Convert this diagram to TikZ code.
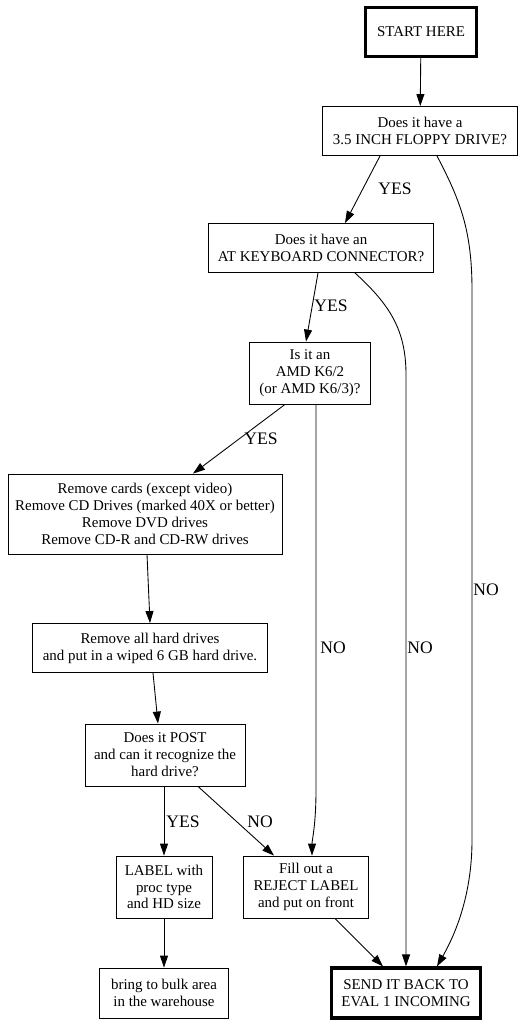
\documentclass[tikz,border=0pt]{standalone}
\usepackage{fontspec}
\setmainfont{Liberation Serif}
\usetikzlibrary{arrows.meta, positioning}
\tikzset{
  cx/.style = {draw=black, fill=white, align=center, inner sep=0pt,
    line width=0.5pt, font=\fontsize{8.5}{9.6}\selectfont},
  cxg/.style = {cx, line width=1.8pt},
  seta/.style = {-{Triangle[length=2.4mm, width=1.6mm]}, line width=0.5pt},
  rot/.style = {font=\fontsize{10}{12}\selectfont, inner sep=0pt}
}
\begin{document}
\begin{tikzpicture}[x=0.02cm, y=-0.02cm]
  \useasboundingbox (0,0) rectangle (526,1026);
  % caixas
  \node [cxg, minimum width=2.22cm, minimum height=0.98cm] (start) at (421,32) {START HERE};
  \node [cx, minimum width=3.9cm, minimum height=0.98cm] (floppy) at (420,131) {Does it have a\\3.5 INCH FLOPPY DRIVE?};
  \node [cx, minimum width=4.5cm, minimum height=0.98cm] (keyb) at (321,248) {Does it have an\\AT KEYBOARD CONNECTOR?};
  \node [cx, minimum width=2.42cm, minimum height=1.24cm] (amd) at (310,373) {Is it an\\AMD K6/2\\(or AMD K6/3)?};
  \node [cx, minimum width=5.48cm, minimum height=1.6cm] (strip) at (145,514) {Remove cards (except video)\\Remove CD Drives (marked 40X or better)\\Remove DVD drives\\Remove CD-R and CD-RW drives};
  \node [cx, minimum width=4.7cm, minimum height=0.98cm] (hdd) at (150,648) {Remove all hard drives\\and put in a wiped 6 GB hard drive.};
  \node [cx, minimum width=3.2cm, minimum height=1.24cm] (post) at (165,755) {Does it POST\\and can it recognize the\\hard drive?};
  \node [cx, minimum width=1.92cm, minimum height=1.24cm] (lbl) at (164,887) {LABEL with\\proc type\\and HD size};
  \node [cx, minimum width=2.5cm, minimum height=1.24cm] (reject) at (306,887) {Fill out a\\REJECT LABEL\\and put on front};
  \node [cx, minimum width=2.58cm, minimum height=1cm] (bulk) at (164,993) {bring to bulk area\\in the warehouse};
  \node [cxg, minimum width=2.98cm, minimum height=1cm] (sendback) at (406,993) {SEND IT BACK TO\\EVAL 1 INCOMING};

  % setas
  \draw [seta] (start) -- (floppy);
  \draw [seta] ([xshift=-0.8cm]floppy.south) -- ([xshift=0.48cm]keyb.north);
  \draw [seta] ([xshift=0.34cm]floppy.south) .. controls (460,200) and (472,230) .. (472,290)
    -- (472,840) .. controls (472,900) and (452,940) .. ([xshift=0.62cm]sendback.north);
  \draw [seta] ([xshift=-0.06cm]keyb.south) -- ([xshift=-0.08cm]amd.north);
  \draw [seta] ([xshift=0.68cm]keyb.south) .. controls (390,305) and (406,330) .. (406,375)
    -- (sendback.north);
  \draw [seta] ([xshift=-0.5cm]amd.south) -- ([xshift=0.96cm]strip.north);
  \draw [seta] ([xshift=0.12cm]amd.south) -- (316,790) .. controls (316,825) and (312,840) .. ([xshift=0.12cm]reject.north);
  \draw [seta] ([xshift=0.04cm]strip.south) -- ([xshift=0cm]hdd.north);
  \draw [seta] ([xshift=0.06cm]hdd.south) -- ([xshift=-0.14cm]post.north);
  \draw [seta] (post.south -| lbl.north) -- (lbl.north);
  \draw [seta] ([xshift=0.66cm]post.south) -- ([xshift=-0.64cm]reject.north);
  \draw [seta] (lbl) -- (bulk);
  \draw [seta] ([xshift=0.58cm]reject.south) -- ([xshift=-0.46cm]sendback.north);

  % rotulos
  \node [rot] (y1) at (395,189) {YES};
  \node [rot] (y2) at (331,306) {YES};
  \node [rot] (y3) at (261,439) {YES};
  \node [rot] (y4) at (183,822) {YES};
  \node [rot] (n1) at (486,590) {NO};
  \node [rot] (n2) at (420,648) {NO};
  \node [rot] (n3) at (333,648) {NO};
  \node [rot] (n4) at (260,822) {NO};
\end{tikzpicture}
\end{document}
